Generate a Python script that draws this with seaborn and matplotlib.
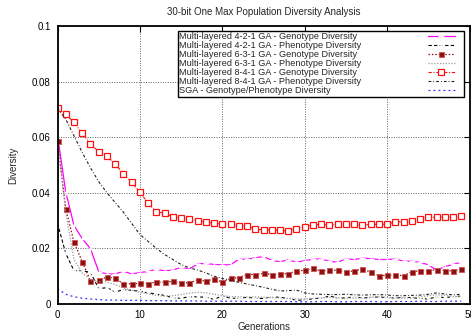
import numpy as np
import pandas as pd
import matplotlib
matplotlib.use("Agg")
import matplotlib.pyplot as plt
import seaborn as sns
from matplotlib.ticker import FuncFormatter, MultipleLocator

generations = list(range(50))

geno_421 = [0.0607, 0.0403, 0.0283, 0.0235, 0.0199, 0.0116, 0.0108, 0.0108, 0.0118, 0.0108,
            0.0113, 0.0117, 0.0125, 0.0119, 0.0122, 0.0132, 0.0126, 0.0144, 0.0146, 0.0142,
            0.0141, 0.0141, 0.0161, 0.0161, 0.0166, 0.0171, 0.0157, 0.0152, 0.0159, 0.0150,
            0.0156, 0.0161, 0.0162, 0.0154, 0.0150, 0.0162, 0.0160, 0.0165, 0.0163, 0.0160,
            0.0160, 0.0162, 0.0154, 0.0154, 0.0150, 0.0141, 0.0122, 0.0134, 0.0143, 0.0150]

pheno_421 = [0.0290, 0.0182, 0.0120, 0.0120, 0.0114, 0.0055, 0.0059, 0.0043, 0.0052, 0.0049,
             0.0046, 0.0040, 0.0036, 0.0031, 0.0022, 0.0021, 0.0026, 0.0026, 0.0024, 0.0017,
             0.0029, 0.0021, 0.0021, 0.0024, 0.0021, 0.0020, 0.0026, 0.0024, 0.0020, 0.0014,
             0.0014, 0.0019, 0.0021, 0.0029, 0.0021, 0.0022, 0.0026, 0.0022, 0.0023, 0.0026,
             0.0022, 0.0022, 0.0024, 0.0023, 0.0020, 0.0018, 0.0026, 0.0023, 0.0026, 0.0029]

geno_631 = [0.0587, 0.0343, 0.0223, 0.0152, 0.0083, 0.0086, 0.0097, 0.0092, 0.0073, 0.0073,
            0.0074, 0.0073, 0.0079, 0.0079, 0.0081, 0.0076, 0.0077, 0.0085, 0.0083, 0.0089,
            0.0079, 0.0092, 0.0095, 0.0106, 0.0106, 0.0110, 0.0106, 0.0108, 0.0109, 0.0119,
            0.0121, 0.0128, 0.0118, 0.0122, 0.0121, 0.0115, 0.0119, 0.0125, 0.0115, 0.0102,
            0.0103, 0.0104, 0.0102, 0.0116, 0.0120, 0.0118, 0.0124, 0.0120, 0.0119, 0.0125]

pheno_631 = [0.0587, 0.0330, 0.0160, 0.0112, 0.0088, 0.0080, 0.0079, 0.0070, 0.0058, 0.0050,
             0.0042, 0.0036, 0.0031, 0.0028, 0.0030, 0.0034, 0.0039, 0.0042, 0.0040, 0.0035,
             0.0030, 0.0027, 0.0026, 0.0025, 0.0026, 0.0024, 0.0023, 0.0022, 0.0021, 0.0019,
             0.0018, 0.0020, 0.0022, 0.0024, 0.0023, 0.0022, 0.0021, 0.0022, 0.0024, 0.0026,
             0.0024, 0.0022, 0.0021, 0.0022, 0.0025, 0.0030, 0.0033, 0.0031, 0.0027, 0.0026]

geno_841 = [0.0706, 0.0683, 0.0653, 0.0614, 0.0577, 0.0547, 0.0531, 0.0504, 0.0468, 0.0438,
            0.0402, 0.0363, 0.0331, 0.0327, 0.0313, 0.0308, 0.0306, 0.0299, 0.0296, 0.0290,
            0.0289, 0.0287, 0.0282, 0.0281, 0.0269, 0.0267, 0.0267, 0.0265, 0.0263, 0.0270,
            0.0278, 0.0284, 0.0287, 0.0284, 0.0287, 0.0287, 0.0286, 0.0284, 0.0286, 0.0287,
            0.0287, 0.0296, 0.0296, 0.0300, 0.0306, 0.0312, 0.0312, 0.0313, 0.0313, 0.0317]

pheno_841 = [0.0705, 0.0665, 0.0605, 0.0545, 0.0490, 0.0440, 0.0400, 0.0365, 0.0330, 0.0290,
             0.0250, 0.0225, 0.0200, 0.0178, 0.0160, 0.0142, 0.0130, 0.0122, 0.0112, 0.0100,
             0.0092, 0.0085, 0.0078, 0.0072, 0.0066, 0.0060, 0.0053, 0.0047, 0.0048, 0.0050,
             0.0040, 0.0036, 0.0035, 0.0034, 0.0034, 0.0035, 0.0033, 0.0032, 0.0033, 0.0034,
             0.0032, 0.0030, 0.0030, 0.0031, 0.0032, 0.0035, 0.0040, 0.0036, 0.0033, 0.0035]

sga = [0.0055, 0.0035, 0.0026, 0.0021, 0.0018, 0.0016, 0.0014, 0.0014, 0.0013, 0.0013,
       0.0013, 0.0012, 0.0012, 0.0012, 0.0011, 0.0011, 0.0011, 0.0011, 0.0010, 0.0010,
       0.0010, 0.0010, 0.0010, 0.0009, 0.0009, 0.0009, 0.0009, 0.0009, 0.0009, 0.0008,
       0.0008, 0.0008, 0.0009, 0.0009, 0.0008, 0.0008, 0.0009, 0.0009, 0.0009, 0.0008,
       0.0008, 0.0009, 0.0009, 0.0009, 0.0010, 0.0009, 0.0009, 0.0010, 0.0010, 0.0010]

labels = [
    "Multi-layered 4-2-1 GA - Genotype Diversity",
    "Multi-layered 4-2-1 GA - Phenotype Diversity",
    "Multi-layered 6-3-1 GA - Genotype Diversity",
    "Multi-layered 6-3-1 GA - Phenotype Diversity",
    "Multi-layered 8-4-1 GA - Genotype Diversity",
    "Multi-layered 8-4-1 GA - Phenotype Diversity",
    "SGA - Genotype/Phenotype Diversity",
]

sns.set_style("white")
plt.rcParams["font.family"] = ["Liberation Sans", "DejaVu Sans"]

fig = plt.figure(figsize=(4.71, 3.33), dpi=100)
ax = fig.add_axes([57.5 / 471, 1 - 304 / 333, 412 / 471, 278 / 333])

series = [geno_421, pheno_421, geno_631, pheno_631, geno_841, pheno_841, sga]
styles = [
    dict(color="#ff00ff", linestyle="-", lw=0.9, marker="+", ms=5, mew=0.9),
    dict(color="black", linestyle=(0, (3, 2)), lw=0.8, marker="x", ms=3.5, mew=0.9),
    dict(color="#8b1010", linestyle=(0, (1.2, 1.5)), lw=0.9, marker="s", ms=3.6,
         mfc="#8b1010", mec="#d05050", mew=0.6),
    dict(color="#9a9a9a", linestyle=(0, (1, 1.3)), lw=0.9),
    dict(color="#ff1010", linestyle=(0, (3, 1.5, 1, 1.5)), lw=0.8, marker="s", ms=4.2,
         mfc="white", mec="#ff1010", mew=0.9),
    dict(color="#202020", linestyle=(0, (2.5, 1.8, 0.8, 1.8)), lw=0.8),
    dict(color="#3030ff", linestyle=(0, (1.5, 2.5)), lw=0.9),
]

for vals, lab, st in zip(series, labels, styles):
    df = pd.DataFrame({"Generations": generations, "Diversity": vals})
    sns.lineplot(data=df, x="Generations", y="Diversity", ax=ax, label=lab, **st)

ax.set_xlim(0, 50)
ax.set_ylim(0, 0.1)
ax.xaxis.set_major_locator(MultipleLocator(10))
ax.yaxis.set_major_locator(MultipleLocator(0.02))
ax.yaxis.set_major_formatter(FuncFormatter(lambda v, p: "%g" % round(v, 4)))
ax.grid(True, color="#606060", linestyle=(0, (1, 1.5)), linewidth=0.7)
ax.tick_params(direction="in", length=4, width=0.8, top=True, right=True,
               labelsize=7, pad=5, colors="black")
ax.tick_params(axis="x", pad=4)
for sp in ax.spines.values():
    sp.set_visible(True)
    sp.set_color("black")
    sp.set_linewidth(1.3)

ax.set_xlabel("Generations", fontsize=7, labelpad=2)
ax.set_ylabel("Diversity", fontsize=7, labelpad=10)
ax.set_title("30-bit One Max Population Diversity Analysis", fontsize=7, pad=8)

leg = ax.legend(loc="upper right", bbox_to_anchor=(0.987, 0.982), markerfirst=False,
                fancybox=False, edgecolor="black", framealpha=1, fontsize=6.6,
                handlelength=3.0, handletextpad=7.2, labelspacing=0.0,
                borderpad=0.15, borderaxespad=0)
leg.get_frame().set_linewidth(1.0)

# Left-align the legend labels while keeping the line samples in one right-hand column,
# with a little blank room after the samples
column = leg._legend_handle_box.get_children()[0]
column.align = "left"
for item in column.get_children():
    item.get_children()[1].width += 5.5
fig.canvas.draw()
renderer = fig.canvas.get_renderer()
widths = [t.get_window_extent(renderer).width for t in leg.get_texts()]
max_w = max(widths)
base_sep = leg.handletextpad * leg._fontsize
for item, w in zip(column.get_children(), widths):
    item.sep = base_sep + (max_w - w) * 72.0 / fig.dpi

fig.savefig("out.png", dpi=100)
